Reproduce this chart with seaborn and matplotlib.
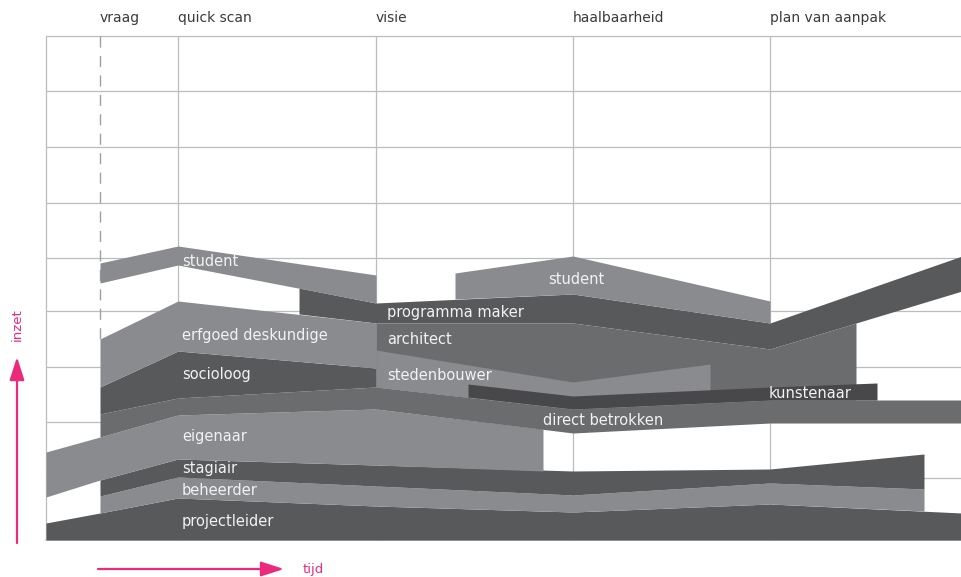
import numpy as np
import matplotlib
matplotlib.use("Agg")
import matplotlib.pyplot as plt
import seaborn as sns

sns.set_style("white")
plt.rcParams["font.family"] = ["DejaVu Sans"]

# ---- data (x = time position, y = level measured downward in chart units) ----
phases = ["vraag", "quick scan", "visie", "haalbaarheid", "plan van aanpak"]
phase_x = [100, 178, 376, 573, 770]
grid_y = [36, 91, 147, 203, 258, 311, 367, 422, 478]

projectleider_x = [46, 100, 178, 376, 573, 770, 962]
projectleider_top = [523, 513, 498, 506, 512, 504, 513]
projectleider_bot = [540, 540, 540, 540, 540, 540, 540]

beheerder_x = [100, 178, 376, 573, 770, 924]
beheerder_top = [496, 477, 486, 495, 483, 489]
beheerder_bot = [513, 498, 506, 512, 504, 511]

stagiair_x = [100, 178, 376, 573, 770, 924]
stagiair_top = [480, 459, 465, 471, 469, 454]
stagiair_bot = [496, 477, 486, 495, 483, 489]

eigenaar_x = [46, 100, 178, 376, 543]
eigenaar_top = [452, 437, 415, 409, 429]
eigenaar_bot = [497, 480, 459, 465, 471]

direct_x = [100, 178, 376, 573, 770, 962]
direct_top = [414, 398, 387, 409, 400, 400]
direct_bot = [437, 415, 409, 433, 423, 423]

socioloog_x = [100, 178, 376]
socioloog_top = [387, 351, 368]
socioloog_bot = [414, 398, 387]

erfgoed_x = [100, 178, 376]
erfgoed_top = [339, 301, 323]
erfgoed_bot = [387, 351, 368]

student1_x = [100, 178, 376]
student1_top = [263, 246, 275]
student1_bot = [283, 265, 303]

architect_x = [376, 573, 770, 856]
architect_top = [323, 323, 349, 323]
architect_bot = [387, 409, 400, 400]

stedenbouwer_x = [376, 573, 710]
stedenbouwer_top = [350, 382, 364]
stedenbouwer_bot = [387, 409, 403]

kunstenaar_x = [468, 573, 770, 877]
kunstenaar_top = [384, 396, 387, 383]
kunstenaar_bot = [397, 409, 400, 400]

programma_x = [299, 376, 573, 770, 962]
programma_top = [288, 303, 294, 323, 256]
programma_bot = [314, 323, 323, 349, 291]

student2_x = [455, 573, 770]
student2_top = [273, 256, 301]
student2_bot = [299, 294, 323]

labels = ["student", "erfgoed deskundige", "socioloog", "eigenaar", "stagiair",
          "beheerder", "projectleider", "programma maker", "architect",
          "stedenbouwer", "student", "direct betrokken", "kunstenaar"]
label_x = [182, 182, 182, 182, 182, 182, 182, 387, 387, 387, 548, 543, 769]
label_y = [266, 340, 379, 441, 473, 495, 526, 317, 344, 380, 284, 425, 398]

LIGHT = "#8a8b8e"
DARK = "#58595b"
MED = "#6b6c6e"
DARKEST = "#48484a"
PINK = "#ec2a7b"
GRID = "#bcbcbc"

bands = [
    (projectleider_x, projectleider_top, projectleider_bot, DARK),
    (beheerder_x, beheerder_top, beheerder_bot, LIGHT),
    (stagiair_x, stagiair_top, stagiair_bot, DARK),
    (eigenaar_x, eigenaar_top, eigenaar_bot, LIGHT),
    (direct_x, direct_top, direct_bot, MED),
    (socioloog_x, socioloog_top, socioloog_bot, DARK),
    (programma_x, programma_top, programma_bot, DARK),
    (erfgoed_x, erfgoed_top, erfgoed_bot, LIGHT),
    (student1_x, student1_top, student1_bot, LIGHT),
    (architect_x, architect_top, architect_bot, MED),
    (stedenbouwer_x, stedenbouwer_top, stedenbouwer_bot, LIGHT),
    (kunstenaar_x, kunstenaar_top, kunstenaar_bot, DARKEST),
    (student2_x, student2_top, student2_bot, LIGHT),
]

W, H = 962, 577
fig = plt.figure(figsize=(W / 100, H / 100), dpi=100)
ax = fig.add_axes([46 / W, (H - 540) / H, (W - 46) / W, 504 / H])
ax.set_xlim(46, 962)
ax.set_ylim(540, 36)
ax.axis("off")

# grid
for gy in grid_y:
    ax.plot([46, 962], [gy, gy], color=GRID, lw=0.9, zorder=0, clip_on=False)
ax.plot([46, 962], [540, 540], color=GRID, lw=1.2, zorder=0, clip_on=False)
ax.plot([46, 46], [36, 540], color=GRID, lw=0.9, zorder=0, clip_on=False)
for px in phase_x[1:]:
    ax.plot([px, px], [36, 540], color=GRID, lw=0.9, zorder=0, clip_on=False)
ax.plot([phase_x[0], phase_x[0]], [36, 340], color="#a0a0a0", lw=1.0,
        linestyle=(0, (8, 6)), zorder=0)

# bands
for i, (bx, bt, bb, col) in enumerate(bands):
    ax.fill_between(bx, bt, bb, color=col, lw=0, zorder=2 + i * 0.01)

# band labels
for t, lx, ly in zip(labels, label_x, label_y):
    ax.text(lx, ly, t, color="#f2f2f2", fontsize=10.5, va="baseline", ha="left", zorder=5)

# phase labels
for t, px in zip(phases, phase_x):
    ax.text(px, 22, t, color="#3a3a3a", fontsize=10, va="baseline", ha="left", clip_on=False)

# axis arrows
ax.annotate("", xy=(17, 357), xytext=(17, 543), annotation_clip=False,
            arrowprops=dict(arrowstyle="-|>,head_length=1.4,head_width=0.45",
                            color=PINK, lw=1.6, shrinkA=0, shrinkB=0))
ax.text(17, 325, "inzet", color=PINK, fontsize=9.5, rotation=90,
        ha="center", va="center", clip_on=False)
ax.annotate("", xy=(284, 569), xytext=(98, 569), annotation_clip=False,
            arrowprops=dict(arrowstyle="-|>,head_length=1.4,head_width=0.45",
                            color=PINK, lw=1.6, shrinkA=0, shrinkB=0))
ax.text(303, 569, "tijd", color=PINK, fontsize=9.5, ha="left", va="center", clip_on=False)

fig.savefig("out.png", dpi=100)
